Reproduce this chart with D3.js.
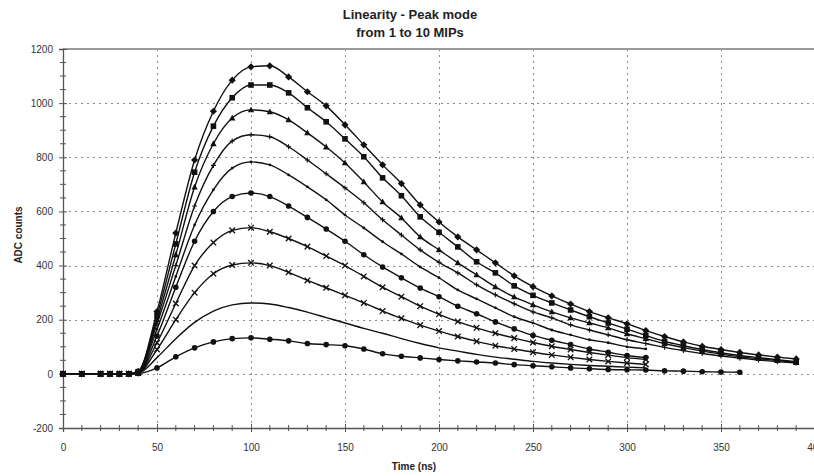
<!DOCTYPE html>
<html><head><meta charset="utf-8">
<script src="https://cdn.jsdelivr.net/npm/d3@7"></script>
<style>
html,body{margin:0;padding:0;background:#fff;}
svg{display:block;font-family:"Liberation Sans",Arial,sans-serif;}
</style></head>
<body><svg id="c" width="814" height="476"></svg>
<script>
// ---- data ----
const titleLines = ["Linearity - Peak mode", "from 1 to 10 MIPs"];
const xLabel = "Time (ns)";
const yLabel = "ADC counts";
const xTicks = [0, 50, 100, 150, 200, 250, 300, 350, 400];
const yTicks = [-200, 0, 200, 400, 600, 800, 1000, 1200];
const times = [0,10,20,25,30,35,40,50,60,70,80,90,100,110,120,130,140,150,160,170,180,190,200,210,220,230,240,250,260,270,280,290,300,310,320,330,340,350,360,370,380,390];
const mip10 = [0,0,0,0,0,0,9,230,520,790,970,1085,1134,1138,1097,1042,990,920,846,772,703,624,561,506,458,410,362,322,288,258,230,207,185,160,138,118,102,90,79,70,62,55];
const mip9  = [0,0,0,0,0,0,8,215,480,745,915,1020,1067,1067,1038,983,931,868,802,724,658,580,523,469,414,373,325,290,262,236,211,188,165,142,120,104,90,78,68,60,52,45];
const mip8  = [0,0,0,0,0,0,8,200,440,690,850,945,975,968,938,890,838,779,709,635,576,506,458,410,366,321,284,255,229,207,188,170,148,130,112,97,84,73,63,56,49,42];
const mip7  = [0,0,0,0,0,0,7,185,400,620,770,860,883,876,839,790,739,687,632,569,513,458,412,373,329,292,259,229,207,181,162,144,126,112,98,86,75,66,58,51,45,40];
const mip6  = [0,0,0,0,0,0,6,165,360,550,680,760,783,772,735,691,643,587,539,488,443,395,355,310,277,244,211,188,162,144,126,115,100,92];
const mip5  = [0,0,0,0,0,0,5,140,320,490,600,655,668,655,620,578,535,490,440,395,355,317,285,250,222,192,166,142,124,108,92,80,68,60];
const mip4  = [0,0,0,0,0,0,4,115,260,400,485,530,540,525,500,470,435,400,360,320,285,250,220,193,170,150,132,116,102,90,79,69,60,53];
const mip3  = [0,0,0,0,0,0,3,90,200,300,370,402,410,400,375,345,318,290,262,232,205,180,158,138,120,104,92,80,70,61,53,46,40,35];
const mip2  = [0,0,0,0,0,0,2,60,130,190,232,255,262,258,245,228,208,188,168,150,130,112,96,84,72,62,54,46,40,35,31,28,25,22];
const mip1  = [0,0,0,0,0,0,1,22,63,96,118,130,133,128,122,112,108,104,92,74,65,59,53,48,44,40,34,30,26,22,19,16,15,14,11,10,8,7,6];
const seriesNames = ["10 MIPs","9 MIPs","8 MIPs","7 MIPs","6 MIPs","5 MIPs","4 MIPs","3 MIPs","2 MIPs","1 MIP"];
const seriesValues = [mip10, mip9, mip8, mip7, mip6, mip5, mip4, mip3, mip2, mip1];
const seriesMarkers = ["diamond","square","triangle","plus","dot","circle","x","x","none","circle"];

// ---- layout ----
const svg = d3.select("#c");
const W = 814, H = 476;
const L = 63, R = 815, T = 49, B = 428;
const x = d3.scaleLinear().domain([0, 400]).range([L, R]);
const y = d3.scaleLinear().domain([-200, 1200]).range([B, T]);

svg.append("rect").attr("width", W).attr("height", H).attr("fill", "#fff");

// grid
const grid = svg.append("g").attr("stroke", "#8a8a8a").attr("stroke-width", 1).attr("stroke-dasharray", "2,4");
grid.selectAll("line.gx").data(xTicks.filter(d => d > 0 && d < 400)).join("line")
  .attr("x1", d => Math.round(x(d)) + 0.5).attr("x2", d => Math.round(x(d)) + 0.5)
  .attr("y1", T).attr("y2", B);
grid.selectAll("line.gy").data(yTicks.filter(d => d > -200 && d < 1200)).join("line")
  .attr("y1", d => Math.round(y(d)) + 0.5).attr("y2", d => Math.round(y(d)) + 0.5)
  .attr("x1", L).attr("x2", R);

// frame top
svg.append("line").attr("x1", L).attr("x2", R).attr("y1", T).attr("y2", T)
  .attr("stroke", "#9a9a9a").attr("stroke-width", 2);

// axes
const fmt = d => String(d);
const yAxis = d3.axisLeft(y).tickValues(yTicks).tickSize(4).tickPadding(6).tickFormat(fmt);
const gy = svg.append("g").attr("transform", `translate(${L},0)`).call(yAxis);
const xAxis = d3.axisBottom(x).tickValues(xTicks).tickSize(4).tickPadding(12).tickFormat(fmt);
const gx = svg.append("g").attr("transform", `translate(0,${B})`).call(xAxis);
[gy, gx].forEach(g => {
  g.select(".domain").attr("stroke", "#555").attr("stroke-width", 1.3);
  g.selectAll(".tick line").attr("stroke", "#555");
  g.selectAll(".tick text").attr("fill", "#333").attr("font-size", 10);
});
gy.selectAll(".tick line").attr("x1", 4);
gx.selectAll(".tick line").attr("y1", -4);
// minor ticks
svg.append("g").selectAll("line").data(d3.range(-200, 1201, 50).filter(d => d % 200 !== 0)).join("line")
  .attr("x1", L - 3).attr("x2", L + 3).attr("y1", d => y(d)).attr("y2", d => y(d)).attr("stroke", "#555");
svg.append("g").selectAll("line").data(d3.range(0, 401, 10).filter(d => d % 50 !== 0)).join("line")
  .attr("y1", B - 3).attr("y2", B + 3).attr("x1", d => x(d)).attr("x2", d => x(d)).attr("stroke", "#555");

// curves
const line = d3.line().x(d => x(d[0])).y(d => y(d[1])).curve(d3.curveMonotoneX);
const plot = svg.append("g");
seriesValues.forEach((vals, i) => {
  const pts = vals.map((v, j) => [times[j], v]);
  plot.append("path").attr("d", line(pts)).attr("fill", "none").attr("stroke", "#111").attr("stroke-width", 1.4);
  const m = seriesMarkers[i];
  const g = plot.append("g");
  pts.forEach(p => {
    const cx = x(p[0]), cy = y(p[1]);
    if (m === "diamond") g.append("path").attr("d", `M${cx},${cy-3.6}L${cx+3.6},${cy}L${cx},${cy+3.6}L${cx-3.6},${cy}Z`).attr("fill", "#111");
    else if (m === "square") g.append("rect").attr("x", cx-2.8).attr("y", cy-2.8).attr("width", 5.6).attr("height", 5.6).attr("fill", "#111");
    else if (m === "triangle") g.append("path").attr("d", `M${cx},${cy-3.4}L${cx+3.2},${cy+2.4}L${cx-3.2},${cy+2.4}Z`).attr("fill", "#111");
    else if (m === "circle") g.append("circle").attr("cx", cx).attr("cy", cy).attr("r", 2.8).attr("fill", "#111");
    else if (m === "dot") g.append("circle").attr("cx", cx).attr("cy", cy).attr("r", 1.4).attr("fill", "#111");
    else if (m === "plus") g.append("path").attr("d", `M${cx-2.5},${cy}H${cx+2.5}M${cx},${cy-2.5}V${cy+2.5}`).attr("stroke", "#111").attr("stroke-width", 1.1);
    else if (m === "x") g.append("path").attr("d", `M${cx-2.8},${cy-2.8}L${cx+2.8},${cy+2.8}M${cx-2.8},${cy+2.8}L${cx+2.8},${cy-2.8}`).attr("stroke", "#111").attr("stroke-width", 1.3);
  });
});

// titles
svg.append("text").attr("x", 410).attr("y", 19).attr("text-anchor", "middle")
  .attr("font-size", 13).attr("font-weight", "bold").attr("fill", "#222").text(titleLines[0]);
svg.append("text").attr("x", 410).attr("y", 37).attr("text-anchor", "middle")
  .attr("font-size", 13).attr("font-weight", "bold").attr("fill", "#222").text(titleLines[1]);
svg.append("text").attr("x", 414).attr("y", 470).attr("text-anchor", "middle")
  .attr("font-size", 10).attr("font-weight", "bold").attr("fill", "#222").text(xLabel);
svg.append("text").attr("transform", "translate(22,235) rotate(-90)").attr("text-anchor", "middle")
  .attr("font-size", 10).attr("font-weight", "bold").attr("fill", "#222").text(yLabel);
</script></body></html>
